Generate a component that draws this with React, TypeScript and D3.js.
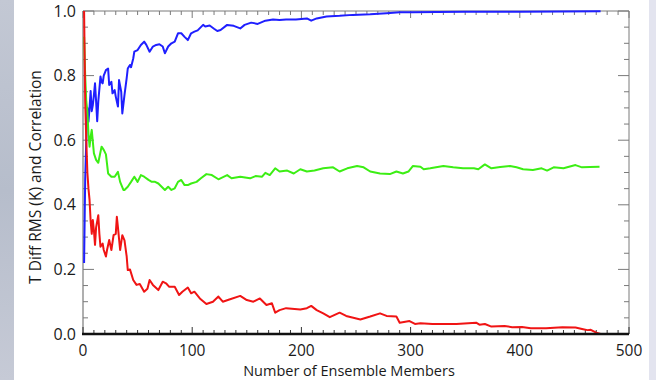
import React from 'react';
import * as d3 from 'd3';

// Ensemble-size convergence: correlation (blue), mean (green), T diff RMS (red).
// Values as [members, value].

const correlation: [number, number][] = [
  [1, 0.22], [2, 0.48], [3, 0.6], [4, 0.7], [5, 0.657], [6, 0.7], [7, 0.752], [8, 0.69],
  [9, 0.709], [10, 0.74], [11, 0.776], [12, 0.72], [13, 0.659], [14, 0.72], [16, 0.797],
  [17, 0.78], [18, 0.776], [19, 0.8], [21, 0.817], [23, 0.822], [24, 0.771], [26, 0.781],
  [27, 0.745], [29, 0.755], [30, 0.735], [32, 0.704], [33, 0.786], [35, 0.75], [36, 0.683],
  [38, 0.74], [40, 0.792], [41, 0.822], [43, 0.833], [44, 0.826], [46, 0.853], [47, 0.874],
  [50, 0.879], [53, 0.895], [56, 0.905], [58, 0.895], [61, 0.874], [64, 0.89], [67, 0.895],
  [70, 0.897], [73, 0.89], [75, 0.869], [78, 0.89], [81, 0.9], [84, 0.905], [87, 0.931],
  [90, 0.931], [93, 0.92], [96, 0.91], [99, 0.931], [102, 0.936], [105, 0.94], [110, 0.957],
  [112, 0.952], [116, 0.955], [120, 0.945], [123, 0.938], [126, 0.941], [132, 0.957],
  [138, 0.954], [144, 0.946], [148, 0.957], [154, 0.964], [160, 0.96], [167, 0.97],
  [174, 0.974], [180, 0.972], [186, 0.974], [195, 0.974], [205, 0.977], [209, 0.97],
  [214, 0.977], [223, 0.983], [235, 0.985], [247, 0.988], [263, 0.99], [278, 0.993],
  [290, 0.996], [302, 0.996], [324, 0.997], [350, 0.998], [400, 0.998], [474, 0.999],
];

const meanValue: [number, number][] = [
  [1, 0.92], [2, 0.8], [3, 0.72], [4, 0.69], [5, 0.62], [6, 0.58], [7, 0.611], [8, 0.632],
  [10, 0.559], [12, 0.539], [14, 0.53], [17, 0.58], [19, 0.57], [21, 0.556], [23, 0.497],
  [26, 0.487], [29, 0.487], [32, 0.502], [34, 0.471], [37, 0.446], [38, 0.446], [41, 0.456],
  [44, 0.471], [47, 0.487], [50, 0.471], [53, 0.492], [56, 0.487], [60, 0.477], [63, 0.471],
  [66, 0.471], [69, 0.466], [72, 0.456], [75, 0.446], [78, 0.456], [81, 0.446], [84, 0.451],
  [87, 0.471], [90, 0.477], [93, 0.461], [96, 0.461], [99, 0.466], [104, 0.471], [108, 0.482],
  [113, 0.495], [118, 0.492], [124, 0.479], [132, 0.492], [136, 0.482], [144, 0.487],
  [153, 0.482], [158, 0.489], [164, 0.487], [167, 0.499], [171, 0.492], [176, 0.513],
  [180, 0.503], [187, 0.506], [193, 0.497], [199, 0.51], [205, 0.503], [212, 0.506],
  [220, 0.513], [229, 0.516], [235, 0.503], [242, 0.513], [251, 0.52], [257, 0.516],
  [263, 0.503], [272, 0.497], [281, 0.495], [287, 0.503], [293, 0.497], [298, 0.503],
  [302, 0.52], [309, 0.518], [312, 0.51], [318, 0.513], [330, 0.52], [339, 0.516],
  [348, 0.513], [358, 0.513], [362, 0.51], [368, 0.525], [374, 0.513], [382, 0.517],
  [391, 0.52], [397, 0.516], [403, 0.51], [412, 0.508], [420, 0.513], [425, 0.506],
  [431, 0.516], [440, 0.513], [451, 0.523], [457, 0.516], [464, 0.517], [473, 0.518],
];

const rmsDiff: [number, number][] = [
  [1, 1.0], [2, 0.72], [3, 0.6], [4, 0.5], [5, 0.45], [6, 0.415], [7, 0.35], [8, 0.31],
  [9, 0.353], [10, 0.32], [11, 0.276], [12, 0.33], [14, 0.368], [15, 0.31], [16, 0.27],
  [18, 0.28], [19, 0.26], [21, 0.24], [22, 0.26], [24, 0.291], [26, 0.26], [28, 0.306],
  [30, 0.31], [31, 0.363], [32, 0.33], [34, 0.26], [36, 0.306], [38, 0.29], [40, 0.24],
  [41, 0.198], [43, 0.2], [46, 0.167], [49, 0.152], [52, 0.155], [56, 0.131], [59, 0.14],
  [61, 0.167], [64, 0.152], [69, 0.136], [73, 0.162], [76, 0.157], [79, 0.146], [84, 0.146],
  [88, 0.121], [91, 0.131], [96, 0.144], [99, 0.126], [102, 0.131], [107, 0.11], [113, 0.093],
  [119, 0.1], [124, 0.116], [128, 0.1], [134, 0.107], [144, 0.118], [150, 0.105], [156, 0.1],
  [162, 0.11], [168, 0.09], [173, 0.095], [176, 0.066], [180, 0.074], [186, 0.08],
  [199, 0.076], [205, 0.08], [209, 0.087], [214, 0.074], [220, 0.064], [226, 0.052],
  [235, 0.066], [241, 0.056], [254, 0.045], [263, 0.054], [272, 0.064], [278, 0.056],
  [287, 0.054], [290, 0.035], [299, 0.04], [304, 0.031], [309, 0.033], [320, 0.031],
  [342, 0.031], [360, 0.035], [363, 0.029], [368, 0.031], [374, 0.023], [386, 0.025],
  [393, 0.021], [402, 0.022], [410, 0.018], [424, 0.018], [439, 0.021], [451, 0.02],
  [458, 0.015], [462, 0.012], [465, 0.013], [470, 0.004], [474, 0.0],
];

const xMajorTicks = [0, 100, 200, 300, 400, 500];
const yMajorTicks = [0, 0.2, 0.4, 0.6, 0.8, 1.0];

const W = 656;
const H = 380;
const plot = { left: 83, right: 629, top: 11, bottom: 334 };
const font = '"Open Sans", "Noto Sans", sans-serif';
const frameGray = '#7a7a7a';

export default function App() {
  const x = d3.scaleLinear().domain([0, 500]).range([plot.left, plot.right]);
  const y = d3.scaleLinear().domain([0, 1]).range([plot.bottom, plot.top]);

  const line = d3
    .line<[number, number]>()
    .x((d) => x(d[0]))
    .y((d) => y(d[1]));

  const xMinor = d3.range(0, 501, 10);
  const yMinor = d3.range(0, 21).map((i) => i * 0.05);

  const series = [
    { data: correlation, color: '#1f1fff' },
    { data: meanValue, color: '#3cee14' },
    { data: rmsDiff, color: '#f01414' },
  ];

  return (
    <div style={{ position: 'fixed', left: 0, top: 0 }}>
      <svg width={W} height={H} style={{ display: 'block' }}>
        <defs>
          <linearGradient id="bgStrip" x1="0" y1="0" x2="0" y2="1">
            <stop offset="0" stopColor="#c3c8d4" />
            <stop offset="0.5" stopColor="#b6bdcb" />
            <stop offset="1" stopColor="#c6cad6" />
          </linearGradient>
        </defs>
        <rect x={0} y={0} width={14} height={H} fill="url(#bgStrip)" />
        <rect x={14} y={0} width={635} height={H} fill="#ffffff" />
        <rect x={649} y={0} width={W - 649} height={H} fill="#e3e4ef" />

        {/* frame */}
        <line x1={plot.left} x2={plot.right} y1={plot.top} y2={plot.top} stroke={frameGray} strokeWidth={1} />
        <line x1={plot.right} x2={plot.right} y1={plot.top} y2={plot.bottom} stroke={frameGray} strokeWidth={1} />
        <line x1={plot.left} x2={plot.left} y1={plot.top} y2={plot.bottom} stroke={frameGray} strokeWidth={1.2} />

        {/* x ticks (bottom + top) */}
        {xMinor.map((t) => {
          const major = t % 100 === 0;
          const len = major ? 7 : 4;
          return (
            <g key={`xt${t}`}>
              <line x1={x(t)} x2={x(t)} y1={plot.bottom} y2={plot.bottom - len} stroke="#333" strokeWidth={1} />
              <line x1={x(t)} x2={x(t)} y1={plot.top} y2={plot.top + len} stroke={frameGray} strokeWidth={1} />
            </g>
          );
        })}

        {/* y ticks (left + right) */}
        {yMinor.map((t, i) => {
          const major = i % 4 === 0;
          const len = major ? 11 : 5;
          return (
            <g key={`yt${i}`}>
              <line x1={plot.left} x2={plot.left + len} y1={y(t)} y2={y(t)} stroke={frameGray} strokeWidth={1} />
              <line x1={plot.right} x2={plot.right - len} y1={y(t)} y2={y(t)} stroke={frameGray} strokeWidth={1} />
            </g>
          );
        })}

        {/* data */}
        {series.map((s, i) => (
          <path
            key={i}
            d={line(s.data) ?? ''}
            fill="none"
            stroke={s.color}
            strokeWidth={2}
            strokeLinejoin="round"
          />
        ))}

        <line x1={plot.left - 1} x2={plot.right} y1={plot.bottom} y2={plot.bottom} stroke="#111" strokeWidth={2.5} />

        {/* tick labels */}
        {xMajorTicks.map((t) => (
          <text key={`xl${t}`} x={x(t)} y={355.5} textAnchor="middle" fontFamily={font} fontSize={15.5} fill="#1a1a1a">
            {t}
          </text>
        ))}
        {yMajorTicks.map((t) => (
          <text key={`yl${t}`} x={76} y={y(t) + 5.5} textAnchor="end" fontFamily={font} fontSize={16} fill="#1a1a1a">
            {t.toFixed(1)}
          </text>
        ))}

        <text x={349} y={376} textAnchor="middle" fontFamily={font} fontSize={14.5} fill="#1a1a1a">
          Number of Ensemble Members
        </text>
        <text
          transform={`translate(41, 177) rotate(-90)`}
          textAnchor="middle"
          fontFamily={font}
          fontSize={15.5}
          fill="#1a1a1a"
        >
          T Diff RMS (K) and Correlation
        </text>
      </svg>
    </div>
  );
}
